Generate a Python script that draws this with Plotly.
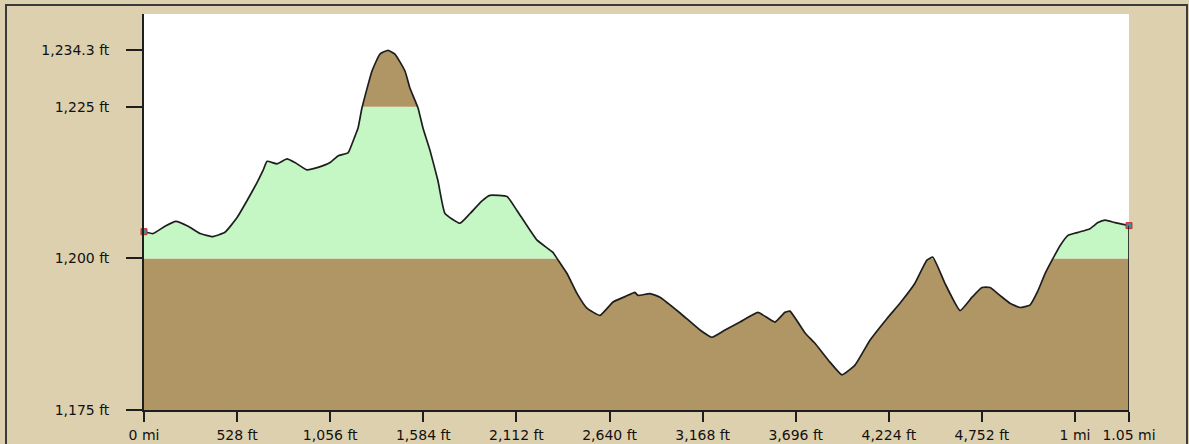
import plotly.graph_objects as go

# Elevation profile (distance in feet, elevation in feet)
dist_ft = [0, 51, 119, 181, 250, 318, 391, 459, 527, 584, 641, 675, 698, 754, 811, 856,
           924, 987, 1055, 1100, 1157, 1180, 1197, 1214, 1236, 1293, 1338, 1384, 1423,
           1480, 1508, 1554, 1582, 1622, 1667, 1707, 1792, 1849, 1917, 1962, 2059, 2115,
           2229, 2319, 2342, 2399, 2456, 2512, 2586, 2660, 2728, 2784, 2801, 2870, 2926,
           3040, 3153, 3221, 3295, 3380, 3482, 3578, 3635, 3663, 3749, 3805, 3890, 3958,
           4032, 4117, 4214, 4287, 4372, 4440, 4474, 4542, 4628, 4696, 4752, 4798, 4854,
           4911, 4968, 5024, 5070, 5110, 5155, 5195, 5240, 5297, 5365, 5410, 5450, 5507,
           5586]
elev_ft = [1204.4, 1204.1, 1205.3, 1206.1, 1205.3, 1204.1, 1203.6, 1204.3, 1206.7,
           1209.5, 1212.5, 1214.5, 1216.0, 1215.6, 1216.4, 1215.8, 1214.6, 1215.0,
           1215.8, 1216.9, 1217.4, 1218.9, 1220.2, 1221.5, 1224.8, 1230.9, 1233.7,
           1234.3, 1233.7, 1230.9, 1228.1, 1224.8, 1221.5, 1217.8, 1212.8, 1207.4,
           1205.8, 1207.4, 1209.5, 1210.4, 1210.2, 1207.9, 1203.0, 1201.0, 1200.0,
           1197.5, 1194.2, 1191.8, 1190.6, 1192.8, 1193.7, 1194.4, 1193.9, 1194.2,
           1193.6, 1191.0, 1188.2, 1187.0, 1188.2, 1189.5, 1191.1, 1189.5, 1191.1,
           1191.3, 1187.7, 1186.0, 1182.9, 1180.8, 1182.4, 1186.5, 1190.1, 1192.6,
           1195.9, 1199.7, 1200.2, 1195.9, 1191.4, 1193.6, 1195.2, 1195.2, 1193.9,
           1192.6, 1191.9, 1192.3, 1194.7, 1197.5, 1200.0, 1202.1, 1203.8, 1204.3,
           1204.9, 1205.9, 1206.3, 1205.9, 1205.4]

x_tick_vals = [0, 528, 1056, 1584, 2112, 2640, 3168, 3696, 4224, 4752, 5280, 5586]
x_tick_text = ["0 mi", "528 ft", "1,056 ft", "1,584 ft", "2,112 ft", "2,640 ft",
               "3,168 ft", "3,696 ft", "4,224 ft", "4,752 ft", "1 mi", "1.05 mi"]
y_tick_vals = [1175, 1200, 1225, 1234.3]
y_tick_text = ["1,175 ft", "1,200 ft", "1,225 ft", "1,234.3 ft"]

band_low, band_high = 1200, 1225
y_min, y_max = 1175, 1240.3
x_max = dist_ft[-1]

BROWN = "#b09565"
GREEN = "#c5f7c5"
TAN = "#ddd0ae"
INK = "#1e1e1e"

fig = go.Figure()

# invisible top boundary, used so the region above the profile is painted white
fig.add_trace(go.Scatter(x=[0, x_max], y=[y_max, y_max], mode="lines",
                         line=dict(width=0, color="white"), hoverinfo="skip",
                         showlegend=False))
fig.add_trace(go.Scatter(x=dist_ft, y=elev_ft, mode="lines",
                         line=dict(color=INK, width=1.7, shape="spline", smoothing=0.4),
                         fill="tonexty", fillcolor="white", showlegend=False))
# end markers
fig.add_trace(go.Scatter(x=[dist_ft[0], dist_ft[-1]], y=[elev_ft[0], elev_ft[-1]],
                         mode="markers", cliponaxis=False,
                         marker=dict(symbol="square", size=6, color="#3f8f9a",
                                     line=dict(color="#d02828", width=1)),
                         showlegend=False))

shapes = [
    dict(type="rect", xref="x", yref="y", x0=0, x1=x_max, y0=y_min, y1=band_low,
         fillcolor=BROWN, line=dict(width=0), layer="below"),
    dict(type="rect", xref="x", yref="y", x0=0, x1=x_max, y0=band_low, y1=band_high,
         fillcolor=GREEN, line=dict(width=0), layer="below"),
    dict(type="rect", xref="x", yref="y", x0=0, x1=x_max, y0=band_high, y1=y_max,
         fillcolor=BROWN, line=dict(width=0), layer="below"),
    dict(type="line", xref="x", yref="y", x0=x_max, x1=x_max, y0=y_min, y1=elev_ft[-1],
         line=dict(color=INK, width=1.7), layer="above"),
    dict(type="rect", xref="paper", yref="paper", x0=-0.1401, x1=1.0589, y0=-0.3, y1=1.0227,
         line=dict(color="#3a3a3a", width=2), fillcolor="rgba(0,0,0,0)", layer="above"),
]

fig.update_layout(
    width=1189, height=444, autosize=False,
    margin=dict(l=144, r=60, t=14, b=34),
    paper_bgcolor=TAN, plot_bgcolor="white",
    shapes=shapes,
    font=dict(family="DejaVu Sans, Verdana, sans-serif", size=14, color="#111"),
    xaxis=dict(range=[0, x_max], tickvals=x_tick_vals, ticktext=x_tick_text,
               showgrid=False, zeroline=False, showline=True, linecolor=INK, linewidth=1.7,
               ticks="outside", ticklen=10, tickwidth=1.7, tickcolor=INK,
               ticklabelstandoff=1, automargin=False),
    yaxis=dict(range=[y_min, y_max], tickvals=y_tick_vals, ticktext=y_tick_text,
               showgrid=False, zeroline=False, showline=True, linecolor=INK, linewidth=1.7,
               ticks="outside", ticklen=16, tickwidth=1.7, tickcolor=INK,
               ticklabelstandoff=14, automargin=False),
)

fig.write_html("out.html", config={"displayModeBar": False},
               post_script="document.body.style.margin='0';document.body.style.background='%s';" % TAN)
